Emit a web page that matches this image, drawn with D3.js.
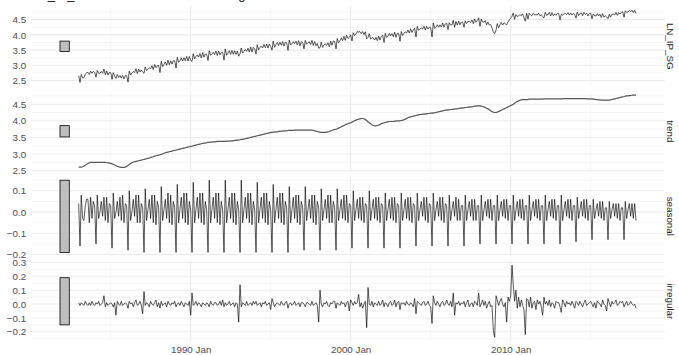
<!DOCTYPE html>
<html>
<head>
<meta charset="utf-8">
<script src="https://cdn.jsdelivr.net/npm/d3@7"></script>
<style>
  body { margin: 0; background: #fff; }
  svg { display: block; }
  text { font-family: "Liberation Sans", Arial, sans-serif; }
</style>
</head>
<body>
<svg id="chart" width="679" height="355"></svg>
<script>
// Monthly series, January 1983 to November 2017 (one row per year).
const firstMonth = "1983 Jan";
const subtitle = "LN_IP_SG = trend + seasonal + irregular";
const panelNames = ["LN_IP_SG", "trend", "seasonal", "irregular"];

const lnIpSg = [
  2.66,2.44,2.70,2.59,2.59,2.71,2.75,2.77,2.70,2.81,2.74,2.80,
  2.77,2.61,2.83,2.74,2.74,2.80,2.74,2.88,2.69,2.82,2.68,2.77,
  2.76,2.54,2.76,2.65,2.57,2.70,2.60,2.67,2.58,2.67,2.55,2.66,
  2.66,2.45,2.81,2.68,2.75,2.80,2.76,2.89,2.73,2.88,2.78,2.85,
  2.78,2.74,2.95,2.83,2.88,2.92,2.89,2.99,2.86,3.03,2.92,2.99,
  3.00,2.76,3.13,2.96,3.03,3.11,3.00,3.17,3.02,3.15,3.04,3.15,
  3.15,2.91,3.26,3.10,3.15,3.25,3.14,3.25,3.15,3.29,3.14,3.29,
  3.16,3.13,3.38,3.21,3.30,3.34,3.27,3.39,3.24,3.42,3.27,3.37,
  3.36,3.16,3.48,3.33,3.37,3.43,3.35,3.47,3.32,3.47,3.34,3.42,
  3.42,3.17,3.54,3.33,3.40,3.48,3.36,3.49,3.36,3.48,3.36,3.47,
  3.30,3.38,3.57,3.40,3.46,3.52,3.46,3.56,3.44,3.60,3.44,3.59,
  3.54,3.37,3.68,3.51,3.59,3.63,3.57,3.69,3.58,3.70,3.57,3.70,
  3.62,3.50,3.80,3.59,3.68,3.75,3.65,3.76,3.66,3.78,3.63,3.76,
  3.74,3.49,3.83,3.67,3.71,3.78,3.71,3.79,3.67,3.81,3.64,3.78,
  3.75,3.54,3.82,3.69,3.74,3.78,3.68,3.82,3.65,3.78,3.64,3.72,
  3.56,3.58,3.76,3.59,3.67,3.71,3.65,3.74,3.61,3.79,3.66,3.80,
  3.78,3.54,3.88,3.74,3.80,3.90,3.81,3.95,3.82,3.99,3.88,3.92,
  4.00,3.80,4.07,3.98,4.03,4.11,4.09,4.11,4.04,4.11,4.01,4.10,
  3.87,3.92,4.04,3.86,3.91,3.90,3.83,3.92,3.81,3.96,3.83,3.95,
  3.99,3.75,4.05,3.92,3.96,4.05,3.97,4.04,3.94,4.09,3.92,4.05,
  4.05,3.79,4.11,3.98,4.05,4.10,4.06,4.16,4.06,4.20,4.08,4.16,
  4.22,3.93,4.28,4.15,4.20,4.23,4.19,4.29,4.16,4.28,4.19,4.25,
  4.24,3.93,4.39,4.21,4.25,4.33,4.25,4.33,4.26,4.39,4.25,4.36,
  4.38,4.17,4.40,4.32,4.33,4.48,4.25,4.44,4.32,4.45,4.33,4.42,
  4.42,4.25,4.46,4.37,4.45,4.44,4.40,4.49,4.37,4.52,4.41,4.47,
  4.56,4.28,4.52,4.42,4.42,4.47,4.33,4.42,4.32,4.34,4.23,4.10,
  4.04,4.16,4.37,4.23,4.33,4.41,4.32,4.40,4.36,4.33,4.43,4.49,
  4.55,4.61,4.72,4.51,4.67,4.60,4.63,4.66,4.63,4.69,4.56,4.45,
  4.71,4.52,4.71,4.66,4.63,4.71,4.65,4.67,4.65,4.71,4.63,4.66,
  4.60,4.56,4.74,4.64,4.66,4.74,4.62,4.73,4.63,4.69,4.64,4.70,
  4.70,4.49,4.68,4.65,4.69,4.70,4.67,4.73,4.65,4.72,4.65,4.70,
  4.67,4.55,4.75,4.63,4.70,4.72,4.63,4.74,4.67,4.71,4.62,4.70,
  4.71,4.53,4.69,4.63,4.62,4.70,4.62,4.68,4.57,4.70,4.58,4.63,
  4.59,4.53,4.68,4.58,4.67,4.69,4.65,4.74,4.64,4.73,4.68,4.74,
  4.76,4.58,4.79,4.74,4.75,4.80,4.76,4.81,4.73,4.81,4.70
];

const trend = [
  2.61,2.61,2.61,2.62,2.64,2.66,2.69,2.72,2.74,2.75,2.75,2.75,
  2.75,2.75,2.75,2.75,2.75,2.75,2.75,2.75,2.75,2.74,2.74,2.73,
  2.72,2.71,2.69,2.67,2.65,2.63,2.62,2.61,2.60,2.60,2.60,2.61,
  2.63,2.66,2.69,2.72,2.74,2.76,2.77,2.78,2.79,2.80,2.81,2.82,
  2.83,2.84,2.85,2.86,2.87,2.88,2.90,2.91,2.92,2.94,2.95,2.96,
  2.97,2.98,2.99,3.01,3.02,3.04,3.05,3.06,3.07,3.08,3.09,3.10,
  3.11,3.12,3.13,3.14,3.15,3.16,3.17,3.18,3.19,3.20,3.21,3.22,
  3.23,3.24,3.25,3.26,3.27,3.28,3.29,3.30,3.31,3.32,3.33,3.33,
  3.34,3.35,3.35,3.36,3.36,3.37,3.37,3.37,3.38,3.38,3.38,3.38,
  3.38,3.38,3.38,3.39,3.39,3.39,3.40,3.40,3.40,3.41,3.41,3.42,
  3.42,3.43,3.44,3.44,3.45,3.46,3.47,3.48,3.49,3.50,3.51,3.52,
  3.53,3.54,3.55,3.56,3.57,3.58,3.59,3.60,3.61,3.62,3.63,3.64,
  3.65,3.65,3.66,3.66,3.67,3.67,3.68,3.68,3.69,3.69,3.70,3.70,
  3.70,3.71,3.71,3.71,3.71,3.71,3.72,3.72,3.72,3.72,3.72,3.72,
  3.72,3.72,3.72,3.72,3.72,3.72,3.72,3.72,3.71,3.70,3.69,3.68,
  3.67,3.66,3.65,3.65,3.65,3.65,3.66,3.67,3.68,3.70,3.71,3.73,
  3.74,3.75,3.76,3.78,3.80,3.82,3.84,3.86,3.88,3.90,3.91,3.93,
  3.94,3.96,3.98,4.00,4.02,4.04,4.05,4.06,4.07,4.07,4.06,4.04,
  4.01,3.97,3.94,3.91,3.88,3.86,3.85,3.85,3.86,3.87,3.89,3.91,
  3.93,3.94,3.95,3.96,3.97,3.98,3.98,3.98,3.98,3.99,3.99,4.00,
  4.00,4.00,4.01,4.02,4.03,4.05,4.07,4.09,4.11,4.12,4.13,4.14,
  4.15,4.16,4.17,4.18,4.19,4.19,4.20,4.20,4.21,4.21,4.22,4.22,
  4.23,4.23,4.24,4.24,4.25,4.26,4.27,4.28,4.29,4.30,4.31,4.32,
  4.32,4.33,4.33,4.34,4.34,4.35,4.35,4.36,4.36,4.37,4.38,4.38,
  4.39,4.39,4.40,4.40,4.41,4.41,4.42,4.42,4.43,4.44,4.44,4.45,
  4.45,4.45,4.44,4.43,4.42,4.40,4.38,4.36,4.33,4.30,4.28,4.26,
  4.25,4.25,4.26,4.28,4.30,4.32,4.34,4.36,4.38,4.40,4.42,4.44,
  4.46,4.48,4.50,4.53,4.56,4.58,4.60,4.62,4.63,4.64,4.64,4.64,
  4.64,4.64,4.65,4.65,4.65,4.65,4.65,4.65,4.65,4.65,4.65,4.65,
  4.65,4.66,4.66,4.66,4.66,4.66,4.66,4.66,4.66,4.66,4.66,4.66,
  4.66,4.66,4.66,4.66,4.67,4.67,4.67,4.67,4.67,4.67,4.67,4.67,
  4.67,4.67,4.67,4.67,4.67,4.67,4.67,4.67,4.67,4.66,4.66,4.66,
  4.66,4.66,4.65,4.65,4.64,4.64,4.63,4.63,4.62,4.62,4.62,4.62,
  4.62,4.62,4.62,4.63,4.64,4.65,4.66,4.67,4.68,4.69,4.70,4.71,
  4.72,4.73,4.74,4.75,4.75,4.76,4.76,4.77,4.77,4.77,4.77
];

const seasonal = [
  0.04,-0.16,0.08,-0.03,-0.04,0.03,0.06,0.06,-0.05,0.07,-0.03,0.05,
  0.03,-0.15,0.08,-0.03,0.00,0.05,-0.02,0.07,-0.04,0.07,-0.05,0.04,
  0.03,-0.17,0.09,-0.03,0.00,0.05,-0.02,0.07,-0.04,0.08,-0.05,0.04,
  0.03,-0.18,0.10,-0.04,0.00,0.06,-0.02,0.08,-0.05,0.08,-0.05,0.04,
  0.02,-0.19,0.11,-0.04,0.01,0.06,-0.03,0.08,-0.05,0.08,-0.06,0.05,
  0.02,-0.19,0.12,-0.04,0.01,0.06,-0.03,0.09,-0.05,0.08,-0.06,0.05,
  0.02,-0.19,0.13,-0.05,0.01,0.07,-0.03,0.09,-0.05,0.09,-0.06,0.05,
  0.01,-0.19,0.14,-0.05,0.01,0.07,-0.03,0.09,-0.05,0.09,-0.06,0.05,
  0.01,-0.19,0.15,-0.05,0.01,0.07,-0.03,0.09,-0.05,0.09,-0.06,0.05,
  0.01,-0.19,0.15,-0.05,0.01,0.07,-0.03,0.09,-0.05,0.09,-0.06,0.05,
  0.01,-0.19,0.15,-0.05,0.01,0.07,-0.03,0.09,-0.05,0.09,-0.06,0.05,
  0.01,-0.19,0.14,-0.05,0.01,0.07,-0.03,0.09,-0.05,0.09,-0.06,0.05,
  0.01,-0.19,0.13,-0.05,0.01,0.07,-0.03,0.09,-0.05,0.09,-0.06,0.05,
  0.02,-0.19,0.12,-0.05,0.01,0.07,-0.03,0.08,-0.05,0.08,-0.06,0.05,
  0.02,-0.18,0.12,-0.04,0.01,0.06,-0.03,0.08,-0.05,0.08,-0.06,0.05,
  0.02,-0.18,0.11,-0.04,0.01,0.06,-0.03,0.08,-0.05,0.08,-0.05,0.05,
  0.02,-0.18,0.11,-0.04,0.01,0.06,-0.03,0.08,-0.04,0.08,-0.05,0.04,
  0.03,-0.17,0.10,-0.04,0.01,0.06,-0.03,0.07,-0.04,0.07,-0.05,0.04,
  0.03,-0.17,0.10,-0.04,0.01,0.06,-0.03,0.07,-0.04,0.07,-0.05,0.04,
  0.03,-0.17,0.09,-0.04,0.01,0.06,-0.03,0.07,-0.04,0.07,-0.05,0.04,
  0.03,-0.17,0.09,-0.04,0.01,0.06,-0.03,0.07,-0.04,0.07,-0.05,0.04,
  0.03,-0.16,0.09,-0.04,0.01,0.05,-0.02,0.07,-0.04,0.07,-0.05,0.04,
  0.03,-0.16,0.09,-0.04,0.01,0.05,-0.02,0.07,-0.04,0.07,-0.05,0.04,
  0.03,-0.16,0.08,-0.04,0.01,0.05,-0.02,0.07,-0.04,0.06,-0.04,0.03,
  0.03,-0.16,0.08,-0.04,0.01,0.05,-0.02,0.06,-0.04,0.06,-0.04,0.03,
  0.03,-0.15,0.08,-0.04,0.01,0.05,-0.02,0.06,-0.03,0.06,-0.04,0.03,
  0.03,-0.15,0.08,-0.04,0.01,0.05,-0.02,0.06,-0.03,0.06,-0.04,0.03,
  0.03,-0.15,0.08,-0.04,0.01,0.05,-0.02,0.06,-0.03,0.06,-0.04,0.03,
  0.03,-0.15,0.08,-0.04,0.01,0.05,-0.02,0.06,-0.03,0.06,-0.04,0.03,
  0.03,-0.15,0.08,-0.04,0.01,0.05,-0.02,0.06,-0.03,0.06,-0.04,0.03,
  0.03,-0.15,0.08,-0.04,0.01,0.05,-0.02,0.06,-0.03,0.06,-0.04,0.03,
  0.03,-0.14,0.07,-0.03,0.01,0.05,-0.02,0.06,-0.03,0.06,-0.04,0.03,
  0.03,-0.13,0.06,-0.03,0.01,0.04,-0.02,0.05,-0.03,0.05,-0.04,0.02,
  0.02,-0.13,0.05,-0.03,0.01,0.04,-0.02,0.04,-0.03,0.04,-0.04,0.02,
  0.02,-0.13,0.05,-0.03,0.01,0.04,-0.02,0.04,-0.03,0.04,-0.04
];

const irregular = [
  0.01,-0.01,0.01,0.00,-0.01,0.02,0.00,-0.01,0.01,-0.01,0.02,0.00,
  -0.01,0.01,0.00,0.02,-0.01,0.00,0.01,0.06,-0.02,0.01,-0.01,0.00,
  0.01,0.00,-0.02,0.01,-0.08,0.02,0.00,-0.01,0.02,-0.01,0.00,0.01,
  0.00,-0.03,0.02,0.00,0.01,-0.02,0.01,0.03,-0.01,0.00,0.02,-0.01,
  -0.07,0.09,-0.01,0.01,0.00,-0.02,0.02,0.00,-0.01,0.01,0.03,-0.02,
  0.01,-0.03,0.02,-0.01,0.00,0.01,-0.02,0.02,0.00,-0.01,0.01,0.00,
  0.02,-0.02,0.00,0.01,-0.01,0.02,0.00,-0.02,0.01,0.00,-0.01,0.02,
  -0.08,0.08,-0.01,0.00,0.02,-0.01,0.01,0.00,-0.02,0.01,0.00,-0.01,
  0.01,0.00,-0.02,0.02,0.00,-0.01,0.01,0.01,-0.01,0.00,0.02,-0.01,
  0.03,-0.02,0.01,-0.01,0.00,0.02,-0.01,0.00,0.01,-0.02,0.01,0.00,
  -0.13,0.14,-0.02,0.01,0.00,-0.01,0.02,-0.01,0.00,0.01,-0.01,0.02,
  0.00,0.02,-0.01,0.00,0.01,-0.02,0.01,0.00,0.02,-0.01,0.00,0.01,
  -0.04,0.04,0.01,-0.02,0.00,0.01,0.00,-0.01,0.02,0.00,-0.01,0.01,
  0.02,-0.03,0.00,0.01,-0.01,0.00,0.02,-0.01,0.00,0.01,-0.02,0.01,
  0.01,0.00,-0.02,0.01,0.01,0.00,-0.01,0.02,-0.01,0.00,0.01,-0.01,
  -0.13,0.10,0.00,-0.02,0.01,0.00,0.02,-0.01,-0.02,0.01,0.00,0.02,
  0.02,-0.03,0.01,0.00,-0.01,0.02,0.00,0.01,-0.02,0.01,0.02,-0.05,
  0.03,0.01,-0.01,0.02,0.00,0.01,0.07,-0.02,0.01,-0.03,0.00,0.02,
  -0.17,0.12,0.00,-0.01,0.02,-0.02,0.01,0.00,-0.01,0.02,-0.01,0.00,
  0.03,-0.02,0.01,0.00,-0.02,0.01,0.02,-0.01,0.00,0.03,-0.02,0.01,
  0.02,-0.04,0.01,0.00,0.01,-0.01,0.02,0.00,-0.01,0.01,0.00,-0.02,
  0.04,-0.07,0.02,0.01,0.00,-0.01,0.01,0.02,-0.01,0.00,0.02,-0.01,
  -0.02,-0.14,0.06,0.01,-0.01,0.02,0.00,-0.02,0.01,0.02,-0.01,0.00,
  0.03,0.00,-0.01,0.02,-0.02,0.08,-0.08,0.01,0.00,0.02,-0.01,0.01,
  0.00,0.02,-0.02,0.01,0.03,-0.02,0.00,0.01,-0.02,0.02,0.01,-0.01,
  0.08,-0.02,0.00,0.03,-0.01,0.02,-0.03,0.00,0.02,-0.02,-0.01,-0.19,
  -0.24,0.06,0.03,-0.01,0.02,0.04,0.00,-0.02,0.01,-0.13,0.05,0.02,
  0.06,0.28,0.14,0.02,0.10,-0.03,0.05,-0.02,0.03,-0.01,-0.04,-0.22,
  0.04,0.03,-0.02,0.05,-0.03,0.01,0.02,-0.04,0.03,0.00,0.02,-0.02,
  -0.08,0.05,0.00,0.02,-0.01,0.03,-0.02,0.01,0.00,-0.03,0.02,0.01,
  0.01,-0.02,-0.06,0.03,0.01,-0.02,0.02,0.00,0.01,-0.01,0.02,0.00,
  -0.03,0.02,0.01,-0.01,0.02,0.00,-0.02,0.01,0.03,-0.01,0.00,0.01,
  0.02,0.00,-0.02,0.01,-0.03,0.02,0.01,0.00,-0.02,0.03,0.00,-0.01,
  -0.05,0.04,0.01,-0.02,0.02,0.00,0.01,0.03,-0.01,0.00,0.02,0.01,
  0.02,-0.02,0.00,0.02,-0.01,0.00,0.02,0.00,-0.01,0.00,-0.03
];

// Axis breaks
const levelTicks = [2.5, 3.0, 3.5, 4.0, 4.5];
const seasonalTicks = [-0.2, -0.1, 0.0, 0.1];
const irregularTicks = [-0.2, -0.1, 0.0, 0.1, 0.2, 0.3];
const xTickLabels = ["1990 Jan", "2000 Jan", "2010 Jan"];
const xMinorLabels = ["1985 Jan", "1995 Jan", "2005 Jan", "2015 Jan"];

// ---------------------------------------------------------------------
const plotLeft = 31.2, plotRight = 664.8;
const panelTop = 6.6, panelH = 79.4, panelStep = 85.0;
const gridCol = "#EBEBEB", axisTextCol = "#4D4D4D";
const fontSize = 9.8;

const svg = d3.select("#chart");
const parseMonth = d3.timeParse("%Y %b");
const start = parseMonth(firstMonth);
const dates = d3.range(lnIpSg.length).map(i => d3.timeMonth.offset(start, i));

const seriesList = [lnIpSg, trend, seasonal, irregular];
const tickList = [levelTicks, levelTicks, seasonalTicks, irregularTicks];

// scale bars sit to the left of the data, as wide as 1/64 of the span
const nMonths = d3.timeMonth.count(dates[0], dates[dates.length - 1]);
const barMonths = Math.max(1, Math.round(nMonths / 64));
const barX0 = d3.timeMonth.offset(dates[0], -2 * barMonths);
const barX1 = d3.timeMonth.offset(dates[0], -barMonths);

const xLo = +barX0, xHi = +dates[dates.length - 1];
const xPad = (xHi - xLo) * 0.05;
const x = d3.scaleTime()
  .domain([new Date(xLo - xPad), new Date(xHi + xPad)])
  .range([plotLeft, plotRight]);

const ranges = seriesList.map(s => d3.extent(s));
const minSpan = d3.min(ranges, r => r[1] - r[0]);

// subtitle, mostly above the top edge of the figure
svg.append("text")
  .attr("x", plotLeft).attr("y", -0.8)
  .attr("font-size", 13).attr("fill", "#000")
  .text(subtitle);

seriesList.forEach((series, k) => {
  const top = panelTop + k * panelStep;
  const [lo, hi] = ranges[k];
  const pad = (hi - lo) * 0.05;
  const y = d3.scaleLinear().domain([lo - pad, hi + pad]).range([top + panelH, top]);
  const ticks = tickList[k];
  const step = ticks[1] - ticks[0];
  const minor = d3.range(ticks.length + 1)
    .map(i => ticks[0] - step / 2 + i * step)
    .filter(v => v >= y.domain()[0] && v <= y.domain()[1]);

  const g = svg.append("g");

  // minor grid
  g.selectAll("line.hminor").data(minor).join("line")
    .attr("x1", plotLeft).attr("x2", plotRight)
    .attr("y1", d => y(d)).attr("y2", d => y(d))
    .attr("stroke", gridCol).attr("stroke-width", 0.55);
  g.selectAll("line.vminor").data(xMinorLabels.map(parseMonth)).join("line")
    .attr("x1", d => x(d)).attr("x2", d => x(d))
    .attr("y1", top).attr("y2", top + panelH)
    .attr("stroke", gridCol).attr("stroke-width", 0.55);
  // major grid
  g.selectAll("line.hmajor").data(ticks).join("line")
    .attr("x1", plotLeft).attr("x2", plotRight)
    .attr("y1", d => y(d)).attr("y2", d => y(d))
    .attr("stroke", gridCol).attr("stroke-width", 1.07);
  g.selectAll("line.vmajor").data(xTickLabels.map(parseMonth)).join("line")
    .attr("x1", d => x(d)).attr("x2", d => x(d))
    .attr("y1", top).attr("y2", top + panelH)
    .attr("stroke", gridCol).attr("stroke-width", 1.07);

  // y axis labels
  const ax = svg.append("g")
    .attr("transform", `translate(${plotLeft},0)`)
    .call(d3.axisLeft(y).tickValues(ticks).tickSize(0).tickPadding(5)
      .tickFormat(d3.format(".1f")));
  ax.select(".domain").remove();
  ax.selectAll("text").attr("font-size", fontSize).attr("fill", axisTextCol)
    .style("font-family", '"Liberation Sans", Arial, sans-serif');

  // scale bar
  const mid = (lo + hi) / 2;
  svg.append("rect")
    .attr("x", x(barX0)).attr("width", x(barX1) - x(barX0))
    .attr("y", y(mid + minSpan / 2)).attr("height", y(mid - minSpan / 2) - y(mid + minSpan / 2))
    .attr("fill", "#BFBFBF").attr("stroke", "#000").attr("stroke-width", 0.8);

  // component line
  const line = d3.line().x((d, i) => x(dates[i])).y(d => y(d));
  svg.append("path").datum(series)
    .attr("d", line)
    .attr("fill", "none")
    .attr("stroke", k === 1 ? "#555" : "#000")
    .attr("stroke-width", k === 1 ? 1.2 : 0.65)
    .attr("stroke-linejoin", "round");

  // strip label on the right
  svg.append("text")
    .attr("transform", `translate(${670},${top + panelH / 2}) rotate(90)`)
    .attr("text-anchor", "middle").attr("dy", "0.35em")
    .attr("font-size", fontSize).attr("fill", "#1A1A1A")
    .text(panelNames[k]);
});

// x axis labels under the bottom panel
const bottom = panelTop + 3 * panelStep + panelH;
const xa = svg.append("g")
  .attr("transform", `translate(0,${bottom})`)
  .call(d3.axisBottom(x).tickValues(xTickLabels.map(parseMonth)).tickSize(0).tickPadding(5)
    .tickFormat(d3.timeFormat("%Y %b")));
xa.select(".domain").remove();
xa.selectAll("text").attr("font-size", fontSize).attr("fill", axisTextCol)
  .style("font-family", '"Liberation Sans", Arial, sans-serif');
</script>
</body>
</html>
